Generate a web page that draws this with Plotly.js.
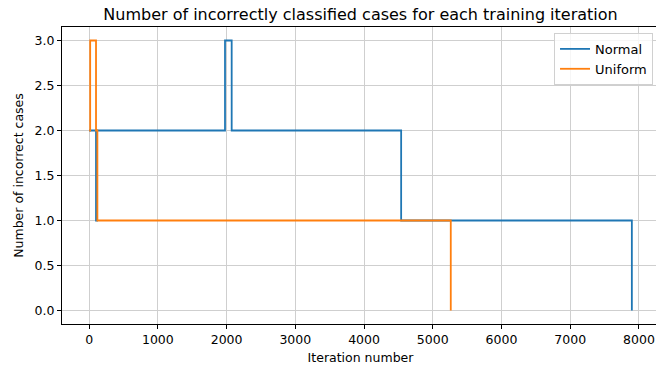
<!DOCTYPE html>
<html>
<head>
<meta charset="utf-8">
<script src="https://cdn.plot.ly/plotly-3.0.1.min.js"></script>
<style>
html,body{margin:0;padding:0;overflow:hidden;background:#fff;}
#chart{width:660px;height:369px;}
</style>
</head>
<body>
<div id="chart"></div>
<script>
// Step vertices (iteration, number of incorrect cases)
const normalIter = [0, 100, 115, 1977, 2074, 4540, 7897];
const normalErr  = [2, 1, 2, 3, 2, 1, 0];
const uniformIter = [0, 15, 100, 120, 5262];
const uniformErr  = [2, 3, 2, 1, 0];
const seriesNames = ["Normal", "Uniform"];
const xTicks = [0, 1000, 2000, 3000, 4000, 5000, 6000, 7000, 8000];
const yTicks = [0, 0.5, 1, 1.5, 2, 2.5, 3];

const font = "DejaVu Sans, sans-serif";
const traces = [
  {x: normalIter, y: normalErr, name: seriesNames[0], mode: "lines",
   line: {shape: "hv", color: "#1f77b4", width: 1.8}},
  {x: uniformIter, y: uniformErr, name: seriesNames[1], mode: "lines",
   line: {shape: "hv", color: "#ff7f0e", width: 1.8}}
];
const axisCommon = {
  showline: true, linecolor: "#000", linewidth: 1, mirror: true,
  ticks: "outside", ticklen: 4, tickwidth: 1, tickcolor: "#000",
  showgrid: true, gridcolor: "#cfcfcf", gridwidth: 1, zeroline: false,
  tickfont: {family: font, size: 12.5, color: "#000"}
};
const layout = {
  width: 660, height: 369,
  margin: {l: 62, r: 1, t: 27, b: 45},
  paper_bgcolor: "#fff", plot_bgcolor: "#fff",
  font: {family: font, color: "#000"},
  title: {text: "Number of incorrectly classified cases for each training iteration",
          font: {family: font, size: 16, color: "#000"},
          x: 0.5, xref: "paper", y: 0.962, yref: "container", yanchor: "middle"},
  xaxis: Object.assign({}, axisCommon, {
    range: [-395, 8292], tickvals: xTicks, ticktext: xTicks.map(String),
    title: {text: "Iteration number", font: {family: font, size: 12.5, color: "#000"}, standoff: 7}
  }),
  yaxis: Object.assign({}, axisCommon, {
    range: [-0.15, 3.15], tickvals: yTicks, ticktext: yTicks.map(v => v.toFixed(1)),
    title: {text: "Number of incorrect cases", font: {family: font, size: 12.5, color: "#000"}, standoff: 8}
  }),
  showlegend: true,
  legend: {x: 0.99, xanchor: "right", y: 0.98, yanchor: "top",
           bgcolor: "rgba(255,255,255,0.8)", bordercolor: "#d0d0d0", borderwidth: 1,
           font: {family: font, size: 13, color: "#000"}, tracegroupgap: 0}
};
Plotly.newPlot("chart", traces, layout, {displayModeBar: false, staticPlot: true});
</script>
</body>
</html>
